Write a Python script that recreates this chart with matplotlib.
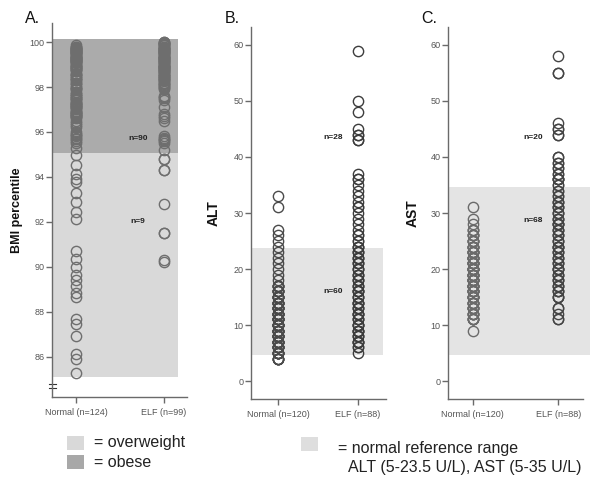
import matplotlib
matplotlib.use("Agg")
import matplotlib.pyplot as plt
import matplotlib.transforms as mtransforms
from matplotlib.patches import Rectangle
import numpy as np

plt.rcParams['font.family'] = ['Liberation Sans', 'DejaVu Sans']

# ---------------- data ----------------
groups_A = ["Normal (n=124)", "ELF (n=99)"]
groups_B = ["Normal (n=120)", "ELF (n=88)"]
groups_C = ["Normal (n=120)", "ELF (n=88)"]

bmi_normal = [
    99.85, 99.8, 99.75, 99.7, 99.65, 99.6, 99.55, 99.5, 99.45, 99.4, 99.35, 99.3,
    99.25, 99.2, 99.15, 99.1, 99.05, 99.0, 98.95, 98.9, 98.85, 98.8, 98.7, 98.6,
    98.55, 98.5, 98.4, 98.3, 98.2, 98.1, 98.0, 97.95, 97.9, 97.8, 97.7, 97.6,
    97.5, 97.45, 97.4, 97.35, 97.3, 97.25, 97.2, 97.15, 97.1, 97.05, 97.0, 96.95,
    96.9, 96.85, 96.8, 96.75, 96.7, 96.65, 96.6, 96.5, 96.4, 96.3, 96.2, 96.0,
    95.9, 95.85, 95.8, 95.75, 95.7, 95.6, 95.5, 95.3,
    99.8, 99.7, 99.6, 99.5, 99.4, 99.3, 99.2, 99.1, 99.0, 98.9, 98.8, 98.6,
    98.4, 98.2, 97.9, 97.7, 97.5, 97.3, 97.1, 96.9, 96.7, 99.75, 99.65, 99.55,
    99.45, 99.35, 99.25, 99.15, 98.75, 98.3, 97.6, 97.2, 96.8,
    94.96, 94.51, 94.14, 93.92, 93.77, 93.28, 92.87, 92.43, 92.13, 90.68, 90.34,
    90.0, 89.64, 89.41, 89.15, 88.85, 88.63, 87.66, 87.44, 86.92, 86.13, 85.88,
    85.28,
]
bmi_elf = [
    100.0, 100.0, 99.95, 99.9, 99.9, 99.85, 99.8, 99.8, 99.75, 99.7, 99.7, 99.65,
    99.6, 99.6, 99.55, 99.5, 99.5, 99.45, 99.4, 99.4, 99.35, 99.3, 99.3, 99.25,
    99.2, 99.2, 99.15, 99.1, 99.1, 99.05, 99.0, 99.0, 98.95, 98.9, 98.9, 98.85,
    98.8, 98.8, 98.75, 98.7, 98.7, 98.65, 98.6, 98.6, 98.55, 98.5, 98.5, 98.45,
    98.4, 98.4, 98.35, 98.3, 98.3, 98.25, 98.2, 98.2, 98.15, 98.1, 98.05, 98.0,
    97.95, 97.9, 97.6, 97.5, 97.4, 97.1, 96.8, 96.7, 96.5, 95.8, 95.7, 95.6,
    95.5, 95.2, 99.95, 99.85, 99.75, 99.65, 99.55, 99.45, 99.35, 99.25, 99.05,
    98.95, 98.85, 98.65, 97.55, 96.6, 95.65, 95.75,
    94.8, 94.8, 94.3, 94.3, 92.8, 91.5, 91.5, 90.3, 90.2,
]

alt_normal = [
    33, 31, 27, 26, 25, 24, 23, 22, 21, 20, 19, 18,
    17, 17, 17, 17, 17, 16, 16, 16, 16, 16, 16, 15, 15, 15, 15, 15, 15, 15,
    14, 14, 14, 14, 14, 14, 14, 14, 13, 13, 13, 13, 13, 13, 13, 13,
    12, 12, 12, 12, 12, 12, 12, 12, 12, 11, 11, 11, 11, 11, 11, 11, 11, 11,
    10, 10, 10, 10, 10, 10, 10, 10, 10, 9, 9, 9, 9, 9, 9, 9, 9, 9,
    8, 8, 8, 8, 8, 8, 8, 8, 8, 7, 7, 7, 7, 7, 7, 7, 7, 7,
    6, 6, 6, 6, 6, 6, 6, 6, 5, 5, 5, 5, 5, 5, 5, 4, 4, 4, 4, 4,
]
alt_elf = [
    59, 50, 48, 45, 44, 44, 43, 43, 37, 36, 36, 35, 34, 33, 32, 31, 31, 30,
    29, 28, 27, 26, 26, 25, 25, 24, 24, 24,
    23, 23, 23, 22, 22, 22, 21, 21, 21, 20, 20, 20, 19, 19, 19, 18, 18, 18,
    17, 17, 17, 16, 16, 16, 16, 15, 15, 15, 14, 14, 14, 13, 13, 13, 12, 12,
    12, 11, 11, 11, 10, 10, 10, 9, 9, 9, 8, 8, 8, 7, 7, 7, 7, 6, 6, 5,
    14, 12, 10, 9,
]

ast_normal = [
    31, 29, 28, 27, 27, 27, 26, 26, 26, 26, 25, 25, 25, 25, 25,
    24, 24, 24, 24, 24, 24, 23, 23, 23, 23, 23, 23, 23,
    22, 22, 22, 22, 22, 22, 22, 21, 21, 21, 21, 21, 21, 21, 21,
    20, 20, 20, 20, 20, 20, 20, 20, 19, 19, 19, 19, 19, 19, 19, 19,
    18, 18, 18, 18, 18, 18, 18, 18, 17, 17, 17, 17, 17, 17, 17, 17,
    16, 16, 16, 16, 16, 16, 16, 15, 15, 15, 15, 15, 15, 15,
    14, 14, 14, 14, 14, 14, 13, 13, 13, 13, 13, 13, 12, 12, 12, 12, 12,
    11, 11, 11, 11, 11, 9, 16, 20, 22, 18,
]
ast_elf = [
    58, 55, 55, 46, 45, 45, 44, 44, 40, 40, 39, 39, 38, 38, 37, 37, 36, 36, 36, 36,
    35, 35, 34, 34, 33, 33, 32, 32, 32, 31, 31, 31, 30, 30, 30, 29, 29, 29,
    28, 28, 28, 27, 27, 27, 26, 26, 26, 25, 25, 25, 24, 24, 24, 23, 23, 23,
    22, 22, 22, 21, 21, 21, 20, 20, 20, 19, 19, 19, 18, 18, 18, 17, 17, 17,
    16, 16, 16, 15, 15, 15, 13, 13, 12, 11, 11, 24, 20, 28,
]

yticks_A = [86, 88, 90, 92, 94, 96, 98, 100]
yticks_BC = [0, 10, 20, 30, 40, 50, 60]

# ---------------- figure ----------------
fig = plt.figure(figsize=(6, 4.9), dpi=100)

axA = fig.add_axes([52/600, 1-397/490, 135/600, 374/490])
axB = fig.add_axes([251/600, 1-399/490, 135/600, 372/490])
axC = fig.add_axes([448/600, 1-399/490, 135/600, 372/490])

tick_col = '#555555'


def style(ax):
    for s in ['top', 'right']:
        ax.spines[s].set_visible(False)
    for s in ['left', 'bottom']:
        ax.spines[s].set_color('#6a6a6a')
        ax.spines[s].set_linewidth(1.0)
    ax.tick_params(axis='both', direction='out', length=4, width=1.0,
                   color='#6a6a6a', labelcolor=tick_col, labelsize=6.5, pad=1.5)
    ax.tick_params(axis='x', pad=4)
    ax.set_facecolor('none')


def column(ax, xpos, vals, col):
    ax.plot(np.full(len(vals), xpos), vals, linestyle='none', marker='o',
            markersize=7.4, markerfacecolor='none', markeredgecolor=col,
            markeredgewidth=1.0, zorder=3, clip_on=False)


# Panel A
style(axA)
axA.set_xlim(-0.273, 1.26)
axA.set_ylim(84.2, 100.85)
axA.axhspan(85.1, 95.05, xmin=0, xmax=0.933, color='#d9d9d9', lw=0, zorder=0)
axA.axhspan(95.05, 100.13, xmin=0, xmax=0.933, color='#ababab', lw=0, zorder=0)
column(axA, 0, bmi_normal, '#6e6e6e')
column(axA, 1, bmi_elf, '#6e6e6e')
axA.set_xticks([0, 1])
axA.set_xticklabels(groups_A)
axA.set_yticks(yticks_A)
axA.set_ylabel('BMI percentile', fontsize=9, fontweight='bold', color='#111111')
axA.yaxis.set_label_coords(-0.215, 0.5)
axA.text(0.70, 95.71, 'n=90', fontsize=6, fontweight='bold', ha='center', va='center', color='#222222')
axA.text(0.70, 92.0, 'n=9', fontsize=6, fontweight='bold', ha='center', va='center', color='#222222')
trA = mtransforms.blended_transform_factory(axA.transAxes, axA.transData)
for yb in (84.78, 84.6):
    axA.plot([-0.022, 0.03], [yb, yb], color='#333333', lw=0.8, transform=trA, clip_on=False)

# Panel B
style(axB)
axB.set_xlim(-0.34, 1.35)
axB.set_ylim(-3.2, 63.2)
axB.axhspan(4.6, 23.8, xmin=0, xmax=0.978, color='#e4e4e4', lw=0, zorder=0)
column(axB, 0, alt_normal, '#4a4a4a')
column(axB, 1, alt_elf, '#3c3c3c')
axB.set_xticks([0, 1])
axB.set_xticklabels(groups_B)
axB.set_yticks(yticks_BC)
axB.set_ylabel('ALT', fontsize=10, fontweight='bold', color='#111111')
axB.yaxis.set_label_coords(-0.222, 0.5)
axB.text(0.69, 43.4, 'n=28', fontsize=6, fontweight='bold', ha='center', va='center', color='#222222')
axB.text(0.69, 15.9, 'n=60', fontsize=6, fontweight='bold', ha='center', va='center', color='#222222')

# Panel C
style(axC)
axC.set_xlim(-0.29, 1.29)
axC.set_ylim(-3.2, 63.2)
spC = axC.axhspan(4.6, 34.6, xmin=0, xmax=1.05, color='#e4e4e4', lw=0, zorder=0)
spC.set_clip_on(False)
column(axC, 0, ast_normal, '#6a6a6a')
column(axC, 1, ast_elf, '#444444')
axC.set_xticks([0, 1])
axC.set_xticklabels(groups_C)
axC.set_yticks(yticks_BC)
axC.set_ylabel('AST', fontsize=10, fontweight='bold', color='#111111')
axC.yaxis.set_label_coords(-0.207, 0.5)
axC.text(0.71, 43.4, 'n=20', fontsize=6, fontweight='bold', ha='center', va='center', color='#222222')
axC.text(0.71, 28.6, 'n=68', fontsize=6, fontweight='bold', ha='center', va='center', color='#222222')

# panel letters
for x, s in [(25, 'A.'), (225, 'B.'), (421, 'C.')]:
    fig.text(x/600, 1-23/490, s, fontsize=11.5, ha='left', va='baseline', color='#111111')

# legends
fig.patches.append(Rectangle((67/600, 1-450/490), 17/600, 14/490, transform=fig.transFigure,
                             facecolor='#d9d9d9', edgecolor='none'))
fig.patches.append(Rectangle((67/600, 1-469/490), 17/600, 14/490, transform=fig.transFigure,
                             facecolor='#a8a8a8', edgecolor='none'))
fig.patches.append(Rectangle((301/600, 1-451/490), 17/600, 14/490, transform=fig.transFigure,
                             facecolor='#dedede', edgecolor='none'))
fig.text(94/600, 1-443/490, '= overweight', fontsize=11.5, ha='left', va='center', color='#222222')
fig.text(94/600, 1-462/490, '= obese', fontsize=11.5, ha='left', va='center', color='#222222')
fig.text(338/600, 1-448/490, '= normal reference range', fontsize=11.5, ha='left', va='center', color='#222222')
fig.text(348/600, 1-467/490, 'ALT (5-23.5 U/L), AST (5-35 U/L)', fontsize=11.5, ha='left', va='center', color='#222222')

fig.savefig('out.png', dpi=100)
